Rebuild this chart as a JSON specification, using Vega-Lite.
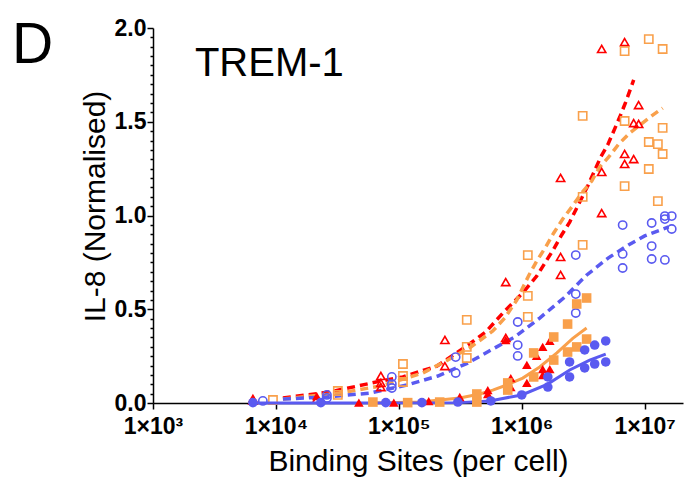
{
  "$schema": "https://vega.github.io/schema/vega-lite/v6.json",
  "width": 530,
  "height": 375,
  "autosize": {"type": "none"},
  "padding": {"left": 153, "top": 28, "right": 8, "bottom": 82},
  "background": "white",
  "config": {
    "view": {"stroke": null},
    "axis": {"grid": false, "domainColor": "black", "tickColor": "black", "labelColor": "black", "titleColor": "black", "labelFont": "Liberation Sans", "titleFont": "Liberation Sans", "domainWidth": 1.5, "tickWidth": 1.5, "labelOverlap": false, "labelBound": false, "labelFlush": false}
  },
  "datasets": {
    "points": [
      {"c": "red", "f": "open", "x": 6500, "y": 0.012},
      {"c": "red", "f": "open", "x": 21500, "y": 0.02},
      {"c": "red", "f": "open", "x": 71400, "y": 0.144},
      {"c": "red", "f": "open", "x": 71400, "y": 0.107},
      {"c": "red", "f": "open", "x": 71400, "y": 0.085},
      {"c": "red", "f": "open", "x": 237000, "y": 0.336},
      {"c": "red", "f": "open", "x": 237000, "y": 0.197},
      {"c": "red", "f": "open", "x": 741000, "y": 0.645},
      {"c": "red", "f": "open", "x": 741000, "y": 0.347},
      {"c": "red", "f": "open", "x": 2070000, "y": 1.2},
      {"c": "red", "f": "open", "x": 2070000, "y": 0.779},
      {"c": "red", "f": "open", "x": 2070000, "y": 0.683},
      {"c": "red", "f": "open", "x": 4470000, "y": 1.888},
      {"c": "red", "f": "open", "x": 4470000, "y": 1.232},
      {"c": "red", "f": "open", "x": 4470000, "y": 1.013},
      {"c": "red", "f": "open", "x": 6870000, "y": 1.925},
      {"c": "red", "f": "open", "x": 6870000, "y": 1.328},
      {"c": "red", "f": "open", "x": 6870000, "y": 1.275},
      {"c": "red", "f": "open", "x": 8140000, "y": 1.493},
      {"c": "red", "f": "open", "x": 8140000, "y": 1.301},
      {"c": "red", "f": "open", "x": 8930000, "y": 1.589},
      {"c": "red", "f": "open", "x": 8930000, "y": 1.488},
      {"c": "orange", "f": "open", "x": 9460, "y": 0.016},
      {"c": "orange", "f": "open", "x": 31900, "y": 0.064},
      {"c": "orange", "f": "open", "x": 31900, "y": 0.043},
      {"c": "orange", "f": "open", "x": 108000, "y": 0.208},
      {"c": "orange", "f": "open", "x": 108000, "y": 0.144},
      {"c": "orange", "f": "open", "x": 108000, "y": 0.112},
      {"c": "orange", "f": "open", "x": 357000, "y": 0.443},
      {"c": "orange", "f": "open", "x": 357000, "y": 0.299},
      {"c": "orange", "f": "open", "x": 357000, "y": 0.24},
      {"c": "orange", "f": "open", "x": 1120000, "y": 0.789},
      {"c": "orange", "f": "open", "x": 1120000, "y": 0.571},
      {"c": "orange", "f": "open", "x": 1120000, "y": 0.459},
      {"c": "orange", "f": "open", "x": 3130000, "y": 1.531},
      {"c": "orange", "f": "open", "x": 3130000, "y": 1.099},
      {"c": "orange", "f": "open", "x": 3130000, "y": 0.843},
      {"c": "orange", "f": "open", "x": 6870000, "y": 1.877},
      {"c": "orange", "f": "open", "x": 6870000, "y": 1.504},
      {"c": "orange", "f": "open", "x": 6870000, "y": 1.157},
      {"c": "orange", "f": "open", "x": 10800000, "y": 1.941},
      {"c": "orange", "f": "open", "x": 10800000, "y": 1.392},
      {"c": "orange", "f": "open", "x": 10800000, "y": 1.248},
      {"c": "orange", "f": "open", "x": 12800000, "y": 1.381},
      {"c": "orange", "f": "open", "x": 12800000, "y": 1.077},
      {"c": "orange", "f": "open", "x": 14000000, "y": 1.888},
      {"c": "orange", "f": "open", "x": 14000000, "y": 1.467},
      {"c": "orange", "f": "open", "x": 14000000, "y": 1.328},
      {"c": "blue", "f": "open", "x": 7830, "y": 0.011},
      {"c": "blue", "f": "open", "x": 26000, "y": 0.043},
      {"c": "blue", "f": "open", "x": 26000, "y": 0.027},
      {"c": "blue", "f": "open", "x": 87700, "y": 0.139},
      {"c": "blue", "f": "open", "x": 87700, "y": 0.101},
      {"c": "blue", "f": "open", "x": 87700, "y": 0.08},
      {"c": "blue", "f": "open", "x": 290000, "y": 0.245},
      {"c": "blue", "f": "open", "x": 290000, "y": 0.16},
      {"c": "blue", "f": "open", "x": 927000, "y": 0.432},
      {"c": "blue", "f": "open", "x": 927000, "y": 0.309},
      {"c": "blue", "f": "open", "x": 927000, "y": 0.251},
      {"c": "blue", "f": "open", "x": 2750000, "y": 0.789},
      {"c": "blue", "f": "open", "x": 2750000, "y": 0.581},
      {"c": "blue", "f": "open", "x": 2750000, "y": 0.48},
      {"c": "blue", "f": "open", "x": 6620000, "y": 0.949},
      {"c": "blue", "f": "open", "x": 6620000, "y": 0.795},
      {"c": "blue", "f": "open", "x": 6620000, "y": 0.72},
      {"c": "blue", "f": "open", "x": 11400000, "y": 0.96},
      {"c": "blue", "f": "open", "x": 11400000, "y": 0.837},
      {"c": "blue", "f": "open", "x": 11400000, "y": 0.768},
      {"c": "blue", "f": "open", "x": 14600000, "y": 0.997},
      {"c": "blue", "f": "open", "x": 14600000, "y": 0.981},
      {"c": "blue", "f": "open", "x": 14600000, "y": 0.763},
      {"c": "blue", "f": "open", "x": 16600000, "y": 0.997},
      {"c": "blue", "f": "open", "x": 16600000, "y": 0.928},
      {"c": "red", "f": "filled", "x": 6500, "y": 0.027},
      {"c": "red", "f": "filled", "x": 21500, "y": 0.037},
      {"c": "red", "f": "filled", "x": 47300, "y": 0.002},
      {"c": "red", "f": "filled", "x": 91000, "y": 0.002},
      {"c": "red", "f": "filled", "x": 175000, "y": 0.01},
      {"c": "red", "f": "filled", "x": 313000, "y": 0.032},
      {"c": "red", "f": "filled", "x": 529000, "y": 0.069},
      {"c": "red", "f": "filled", "x": 529000, "y": 0.048},
      {"c": "red", "f": "filled", "x": 741000, "y": 0.336},
      {"c": "red", "f": "filled", "x": 814000, "y": 0.133},
      {"c": "red", "f": "filled", "x": 814000, "y": 0.085},
      {"c": "red", "f": "filled", "x": 1100000, "y": 0.203},
      {"c": "red", "f": "filled", "x": 1100000, "y": 0.107},
      {"c": "red", "f": "filled", "x": 1320000, "y": 0.251},
      {"c": "red", "f": "filled", "x": 1480000, "y": 0.299},
      {"c": "red", "f": "filled", "x": 1480000, "y": 0.181},
      {"c": "red", "f": "filled", "x": 1480000, "y": 0.149},
      {"c": "red", "f": "filled", "x": 1690000, "y": 0.331},
      {"c": "red", "f": "filled", "x": 1690000, "y": 0.181},
      {"c": "orange", "f": "filled", "x": 61500, "y": 0.005},
      {"c": "orange", "f": "filled", "x": 118000, "y": 0.002},
      {"c": "orange", "f": "filled", "x": 215000, "y": 0.005},
      {"c": "orange", "f": "filled", "x": 431000, "y": 0.048},
      {"c": "orange", "f": "filled", "x": 431000, "y": 0.005},
      {"c": "orange", "f": "filled", "x": 769000, "y": 0.107},
      {"c": "orange", "f": "filled", "x": 769000, "y": 0.069},
      {"c": "orange", "f": "filled", "x": 1250000, "y": 0.267},
      {"c": "orange", "f": "filled", "x": 1250000, "y": 0.139},
      {"c": "orange", "f": "filled", "x": 1820000, "y": 0.352},
      {"c": "orange", "f": "filled", "x": 1820000, "y": 0.229},
      {"c": "orange", "f": "filled", "x": 2360000, "y": 0.421},
      {"c": "orange", "f": "filled", "x": 2360000, "y": 0.272},
      {"c": "orange", "f": "filled", "x": 2800000, "y": 0.528},
      {"c": "orange", "f": "filled", "x": 2800000, "y": 0.299},
      {"c": "orange", "f": "filled", "x": 3370000, "y": 0.56},
      {"c": "orange", "f": "filled", "x": 3370000, "y": 0.341},
      {"c": "blue", "f": "filled", "x": 6500, "y": 0.002},
      {"c": "blue", "f": "filled", "x": 23200, "y": 0.002},
      {"c": "blue", "f": "filled", "x": 78300, "y": 0.002},
      {"c": "blue", "f": "filled", "x": 154000, "y": 0.002},
      {"c": "blue", "f": "filled", "x": 302000, "y": 0.005},
      {"c": "blue", "f": "filled", "x": 560000, "y": 0.011},
      {"c": "blue", "f": "filled", "x": 1000000, "y": 0.043},
      {"c": "blue", "f": "filled", "x": 1630000, "y": 0.139},
      {"c": "blue", "f": "filled", "x": 1630000, "y": 0.085},
      {"c": "blue", "f": "filled", "x": 2450000, "y": 0.219},
      {"c": "blue", "f": "filled", "x": 2450000, "y": 0.139},
      {"c": "blue", "f": "filled", "x": 3250000, "y": 0.283},
      {"c": "blue", "f": "filled", "x": 3250000, "y": 0.187},
      {"c": "blue", "f": "filled", "x": 3920000, "y": 0.309},
      {"c": "blue", "f": "filled", "x": 3920000, "y": 0.208},
      {"c": "blue", "f": "filled", "x": 4820000, "y": 0.331},
      {"c": "blue", "f": "filled", "x": 4820000, "y": 0.219}
    ],
    "fits": [
      {"c": "red", "f": "open", "x": 11400, "y": 0.027},
      {"c": "red", "f": "open", "x": 27500, "y": 0.059},
      {"c": "red", "f": "open", "x": 71400, "y": 0.117},
      {"c": "red", "f": "open", "x": 107800, "y": 0.139},
      {"c": "red", "f": "open", "x": 204000, "y": 0.197},
      {"c": "red", "f": "open", "x": 357000, "y": 0.304},
      {"c": "red", "f": "open", "x": 510000, "y": 0.379},
      {"c": "red", "f": "open", "x": 727000, "y": 0.491},
      {"c": "red", "f": "open", "x": 1019000, "y": 0.587},
      {"c": "red", "f": "open", "x": 1324000, "y": 0.677},
      {"c": "red", "f": "open", "x": 1820000, "y": 0.821},
      {"c": "red", "f": "open", "x": 2110000, "y": 0.896},
      {"c": "red", "f": "open", "x": 2455000, "y": 0.965},
      {"c": "red", "f": "open", "x": 3440000, "y": 1.157},
      {"c": "red", "f": "open", "x": 4390000, "y": 1.312},
      {"c": "red", "f": "open", "x": 5000000, "y": 1.376},
      {"c": "red", "f": "open", "x": 6270000, "y": 1.525},
      {"c": "red", "f": "open", "x": 7010000, "y": 1.605},
      {"c": "red", "f": "open", "x": 8140000, "y": 1.723},
      {"c": "orange", "f": "open", "x": 11400, "y": 0.021},
      {"c": "orange", "f": "open", "x": 33100, "y": 0.053},
      {"c": "orange", "f": "open", "x": 71400, "y": 0.091},
      {"c": "orange", "f": "open", "x": 156700, "y": 0.16},
      {"c": "orange", "f": "open", "x": 250300, "y": 0.229},
      {"c": "orange", "f": "open", "x": 385000, "y": 0.299},
      {"c": "orange", "f": "open", "x": 581000, "y": 0.384},
      {"c": "orange", "f": "open", "x": 727000, "y": 0.453},
      {"c": "orange", "f": "open", "x": 911000, "y": 0.549},
      {"c": "orange", "f": "open", "x": 1140000, "y": 0.68},
      {"c": "orange", "f": "open", "x": 1324000, "y": 0.757},
      {"c": "orange", "f": "open", "x": 1567000, "y": 0.832},
      {"c": "orange", "f": "open", "x": 1820000, "y": 0.907},
      {"c": "orange", "f": "open", "x": 2154000, "y": 0.981},
      {"c": "orange", "f": "open", "x": 2550000, "y": 1.045},
      {"c": "orange", "f": "open", "x": 3075000, "y": 1.12},
      {"c": "orange", "f": "open", "x": 3710000, "y": 1.184},
      {"c": "orange", "f": "open", "x": 4310000, "y": 1.259},
      {"c": "orange", "f": "open", "x": 5100000, "y": 1.312},
      {"c": "orange", "f": "open", "x": 6150000, "y": 1.381},
      {"c": "orange", "f": "open", "x": 7550000, "y": 1.44},
      {"c": "orange", "f": "open", "x": 11400000, "y": 1.531},
      {"c": "orange", "f": "open", "x": 14010000, "y": 1.573},
      {"c": "blue", "f": "open", "x": 11400, "y": 0.021},
      {"c": "blue", "f": "open", "x": 26000, "y": 0.032},
      {"c": "blue", "f": "open", "x": 58100, "y": 0.053},
      {"c": "blue", "f": "open", "x": 116100, "y": 0.096},
      {"c": "blue", "f": "open", "x": 207500, "y": 0.144},
      {"c": "blue", "f": "open", "x": 364000, "y": 0.213},
      {"c": "blue", "f": "open", "x": 581000, "y": 0.288},
      {"c": "blue", "f": "open", "x": 877000, "y": 0.352},
      {"c": "blue", "f": "open", "x": 1400000, "y": 0.453},
      {"c": "blue", "f": "open", "x": 2240000, "y": 0.565},
      {"c": "blue", "f": "open", "x": 3380000, "y": 0.683},
      {"c": "blue", "f": "open", "x": 5040000, "y": 0.773},
      {"c": "blue", "f": "open", "x": 7380000, "y": 0.843},
      {"c": "blue", "f": "open", "x": 10000000, "y": 0.891},
      {"c": "blue", "f": "open", "x": 15670000, "y": 0.939},
      {"c": "orange", "f": "filled", "x": 61500, "y": 0.0},
      {"c": "orange", "f": "filled", "x": 148300, "y": 0.005},
      {"c": "orange", "f": "filled", "x": 313000, "y": 0.027},
      {"c": "orange", "f": "filled", "x": 456000, "y": 0.048},
      {"c": "orange", "f": "filled", "x": 581000, "y": 0.069},
      {"c": "orange", "f": "filled", "x": 755000, "y": 0.096},
      {"c": "orange", "f": "filled", "x": 1019000, "y": 0.133},
      {"c": "orange", "f": "filled", "x": 1400000, "y": 0.192},
      {"c": "orange", "f": "filled", "x": 1930000, "y": 0.267},
      {"c": "orange", "f": "filled", "x": 2600000, "y": 0.345},
      {"c": "orange", "f": "filled", "x": 3370000, "y": 0.4},
      {"c": "blue", "f": "filled", "x": 6500, "y": 0.0},
      {"c": "blue", "f": "filled", "x": 40000, "y": 0.0},
      {"c": "blue", "f": "filled", "x": 313000, "y": 0.002},
      {"c": "blue", "f": "filled", "x": 550000, "y": 0.011},
      {"c": "blue", "f": "filled", "x": 1000000, "y": 0.043},
      {"c": "blue", "f": "filled", "x": 1626000, "y": 0.101},
      {"c": "blue", "f": "filled", "x": 2455000, "y": 0.176},
      {"c": "blue", "f": "filled", "x": 3570000, "y": 0.229},
      {"c": "blue", "f": "filled", "x": 4820000, "y": 0.261}
    ],
    "labels": [
      {"t": "TREM-1", "k": "panel"},
      {"t": "D", "k": "letter"}
    ]
  },
  "layer": [
    {
      "encoding": {
        "x": {
          "field": "x", "type": "quantitative",
          "scale": {"type": "log", "domain": [1000, 20500000], "nice": false},
          "axis": {
            "values": [1000, 10000, 100000, 1000000, 10000000],
            "labelExpr": "datum.value < 5000 ? '1×10³' : datum.value < 50000 ? '1×10⁴' : datum.value < 500000 ? '1×10⁵' : datum.value < 5000000 ? '1×10⁶' : '1×10⁷'",
            "labelFontSize": 23, "labelFontWeight": "bold", "tickSize": 6, "labelPadding": 6,
            "title": "Binding Sites (per cell)", "titleFontSize": 30, "titleFontWeight": "normal",
            "titleBaseline": "alphabetic", "titleY": 67
          }
        },
        "y": {
          "field": "y", "type": "quantitative",
          "scale": {"domain": [0, 2], "nice": false},
          "axis": {
            "values": [0,0.05,0.1,0.15,0.2,0.25,0.3,0.35,0.4,0.45,0.5,0.55,0.6,0.65,0.7,0.75,0.8,0.85,0.9,0.95,1,1.05,1.1,1.15,1.2,1.25,1.3,1.35,1.4,1.45,1.5,1.55,1.6,1.65,1.7,1.75,1.8,1.85,1.9,1.95,2],
            "labelExpr": "abs(datum.value*2 - round(datum.value*2)) < 0.001 ? format(datum.value, '.1f') : ''",
            "tickSize": {"condition": {"test": "abs(datum.value*2 - round(datum.value*2)) < 0.001", "value": 6}, "value": 3},
            "labelFontSize": 23, "labelFontWeight": "bold", "labelPadding": 1,
            "title": "IL-8 (Normalised)", "titleFontSize": 30, "titleFontWeight": "normal",
            "titleBaseline": "alphabetic", "titleX": -49, "titleY": 178, "titleAngle": -90
          }
        },
        "color": {"field": "c", "type": "nominal", "scale": {"domain": ["red", "orange", "blue"], "range": ["#FF0000", "#F9A04B", "#5A5AF0"]}, "legend": null}
      },
      "layer": [
        {
          "data": {"name": "fits"},
          "transform": [{"filter": "datum.f == 'open'"}],
          "mark": {"type": "line", "strokeDash": [8, 5], "strokeWidth": 3.5}
        },
        {
          "data": {"name": "points"},
          "transform": [{"filter": "datum.f == 'open'"}],
          "mark": {"type": "point", "filled": false, "strokeWidth": 1.6, "size": 68, "opacity": 1},
          "encoding": {
            "shape": {"field": "c", "type": "nominal", "scale": {"domain": ["red", "orange", "blue"], "range": ["triangle-up", "square", "circle"]}, "legend": null}
          }
        },
        {
          "data": {"name": "fits"},
          "transform": [{"filter": "datum.f == 'filled'"}],
          "mark": {"type": "line", "strokeWidth": 3}
        },
        {
          "data": {"name": "points"},
          "transform": [{"filter": "datum.f == 'filled'"}],
          "mark": {"type": "point", "filled": true, "size": 92, "opacity": 1},
          "encoding": {
            "shape": {"field": "c", "type": "nominal", "scale": {"domain": ["red", "orange", "blue"], "range": ["triangle-up", "square", "circle"]}, "legend": null}
          }
        }
      ]
    },
    {
      "data": {"name": "labels"},
      "transform": [{"filter": "datum.k == 'panel'"}],
      "mark": {"type": "text", "font": "Liberation Sans", "fontSize": 40, "align": "left", "baseline": "alphabetic", "color": "black", "x": {"expr": "scale('x', 2193)"}, "y": {"expr": "scale('y', 1.744)"}},
      "encoding": {
        "text": {"field": "t", "type": "nominal"}
      }
    },
    {
      "data": {"name": "labels"},
      "transform": [{"filter": "datum.k == 'letter'"}],
      "mark": {"type": "text", "font": "Liberation Sans", "fontSize": 57, "align": "left", "baseline": "alphabetic", "color": "black", "x": {"expr": "scale('x', 71.4)"}, "y": {"expr": "scale('y', 1.813)"}},
      "encoding": {
        "text": {"field": "t", "type": "nominal"}
      }
    }
  ]
}
